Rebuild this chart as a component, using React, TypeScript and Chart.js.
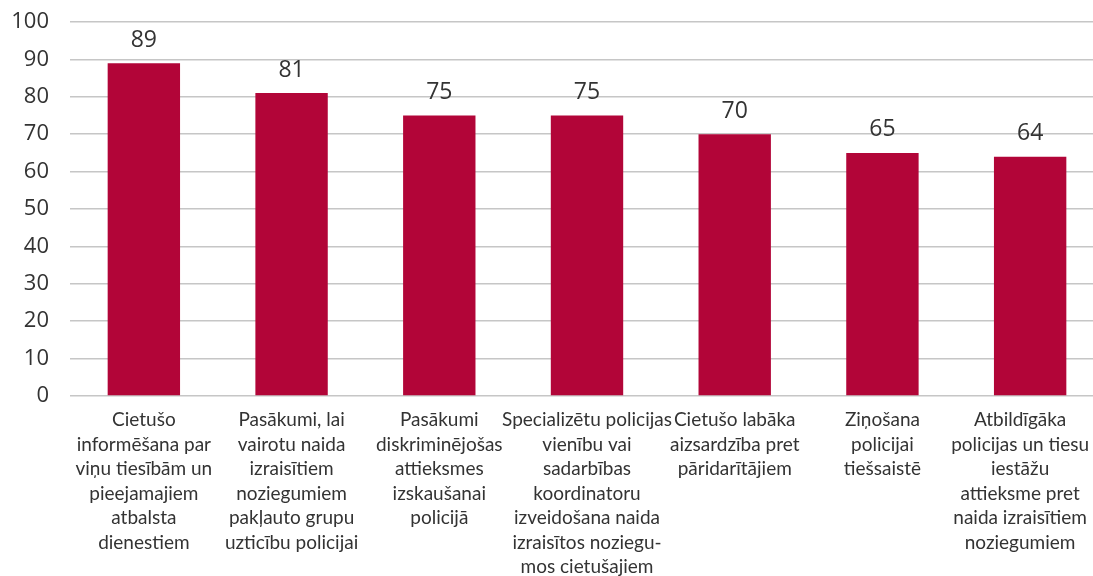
import React, { useEffect, useRef } from "react";
import { Chart, registerables } from "chart.js";

Chart.register(...registerables);

const categories: string[][] = [
  ["Cietušo", "informēšana par", "viņu tiesībām un", "pieejamajiem", "atbalsta", "dienestiem"],
  ["Pasākumi, lai", "vairotu naida", "izraisītiem", "noziegumiem", "pakļauto grupu", "uzticību policijai"],
  ["Pasākumi", "diskriminējošas", "attieksmes", "izskaušanai", "policijā"],
  ["Specializētu policijas", "vienību vai", "sadarbības", "koordinatoru", "izveidošana naida", "izraisītos noziegu-", "mos cietušajiem"],
  ["Cietušo labāka", "aizsardzība pret", "pāridarītājiem"],
  ["Ziņošana", "policijai", "tiešsaistē"],
  ["Atbildīgāka", "policijas un tiesu", "iestāžu", "attieksme pret", "naida izraisītiem", "noziegumiem"],
];

const values: number[] = [89, 81, 75, 75, 70, 65, 64];

const yTicks: number[] = [0, 10, 20, 30, 40, 50, 60, 70, 80, 90, 100];

const FONT = "'Open Sans', 'Noto Sans', sans-serif";
const LABEL_FONT = "Lato, 'Open Sans', sans-serif";
const TEXT = "#333333";
const VISIBLE_RIGHT = 1089;

const valueLabels = {
  id: "valueLabels",
  afterDatasetsDraw(chart: any) {
    const ctx = chart.ctx;
    const meta = chart.getDatasetMeta(0);
    ctx.save();
    ctx.font = `23px ${FONT}`;
    ctx.fillStyle = TEXT;
    ctx.textAlign = "center";
    ctx.textBaseline = "middle";
    meta.data.forEach((bar: any, i: number) => {
      ctx.fillText(String(values[i]), bar.x, bar.y - 23);
    });
    ctx.restore();
  },
};

const categoryLabels = {
  id: "categoryLabels",
  afterDraw(chart: any) {
    const ctx = chart.ctx;
    const xs = chart.scales.x;
    ctx.save();
    ctx.font = `19px ${LABEL_FONT}`;
    ctx.fillStyle = TEXT;
    ctx.textAlign = "center";
    ctx.textBaseline = "middle";
    const lh = 24.5;
    categories.forEach((lines, i) => {
      let x = xs.getPixelForTick(i);
      const maxW = Math.max(...lines.map((l) => ctx.measureText(l).width));
      if (x + maxW / 2 > VISIBLE_RIGHT) x = VISIBLE_RIGHT - maxW / 2;
      lines.forEach((line, j) => {
        ctx.fillText(line, x, xs.top + 24 + j * lh);
      });
    });
    ctx.restore();
  },
};

export default function App() {
  const ref = useRef<HTMLCanvasElement>(null);
  useEffect(() => {
    if (!ref.current) return;
    const chart = new Chart(ref.current, {
      type: "bar",
      data: {
        labels: categories.map((l) => l.join(" ")),
        datasets: [
          {
            data: values,
            backgroundColor: "#B20538",
            categoryPercentage: 1,
            barPercentage: 0.49,
          },
        ],
      },
      options: {
        animation: false,
        responsive: true,
        maintainAspectRatio: false,
        layout: { padding: { top: 22, left: 0, right: 0, bottom: 0 } },
        plugins: { legend: { display: false }, tooltip: { enabled: false } },
        scales: {
          x: {
            grid: { display: false },
            border: { display: false },
            ticks: { display: false, autoSkip: false },
            afterFit: (scale: any) => {
              scale.height = 194;
              scale.paddingLeft = 0;
              scale.paddingRight = 0;
            },
          },
          y: {
            min: 0,
            max: 100,
            afterBuildTicks: (scale: any) => {
              scale.ticks = yTicks.map((v) => ({ value: v }));
            },
            grid: { color: "#c6c6c6", lineWidth: 1.5, drawTicks: false },
            border: { display: false },
            ticks: {
              color: TEXT,
              font: { family: FONT, size: 22 },
              padding: 21,
            },
            afterFit: (scale: any) => {
              scale.width = 70;
              scale.paddingTop = 0;
              scale.paddingBottom = 0;
            },
          },
        },
      },
      plugins: [valueLabels, categoryLabels],
    });
    return () => chart.destroy();
  }, []);
  return (
    <div style={{ position: "absolute", left: 0, top: 0, width: 1093, height: 576, overflow: "hidden", background: "#fff" }}>
      <div style={{ position: "relative", width: 1104, height: 590 }}>
        <canvas ref={ref} />
      </div>
    </div>
  );
}
